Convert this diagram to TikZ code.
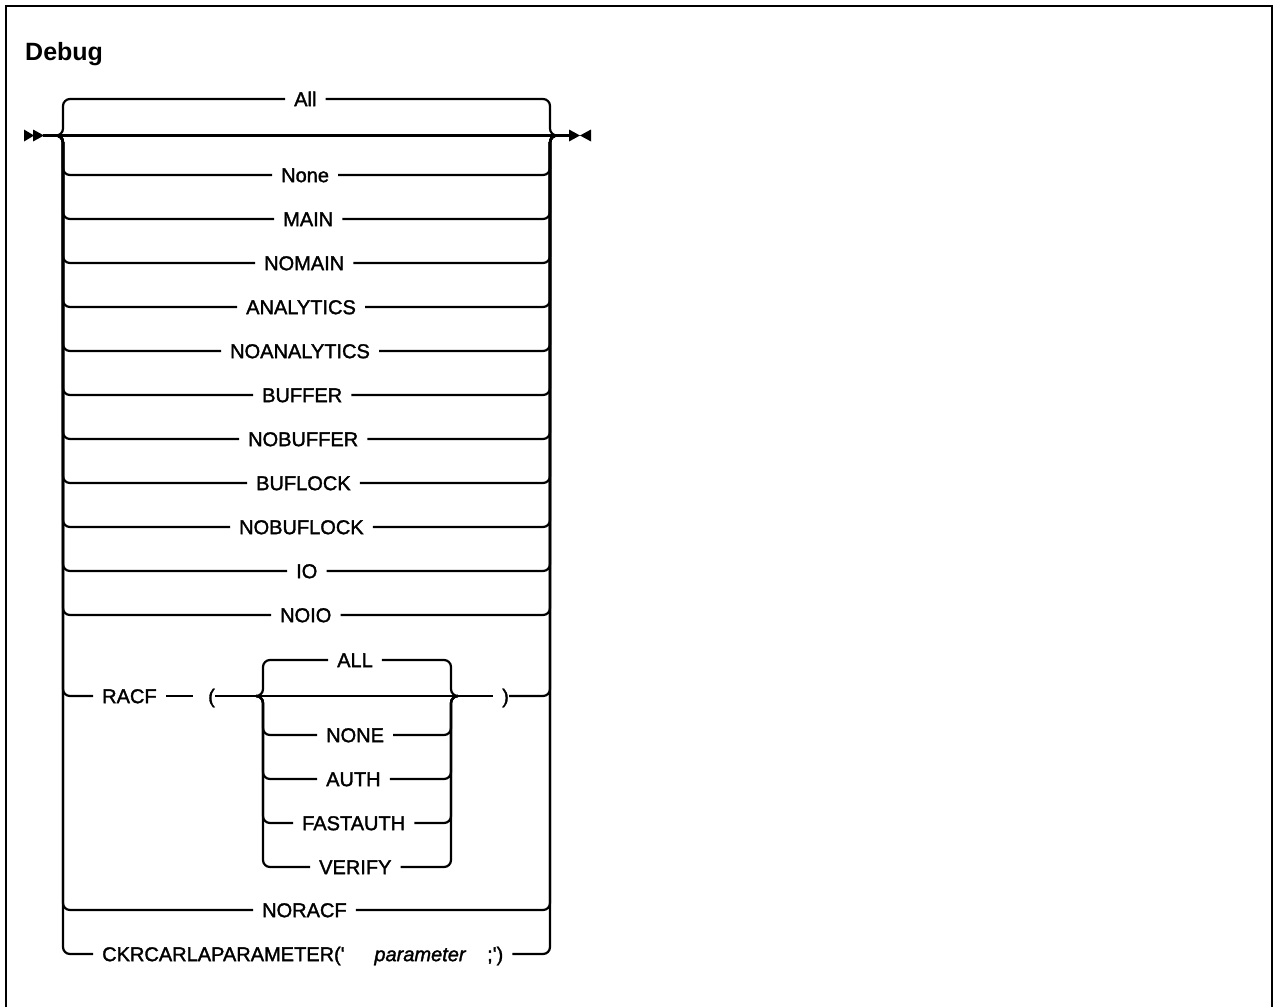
\documentclass[tikz,border=0pt]{standalone}
\usepackage{fontspec}
\setmainfont{Liberation Sans}
\newfontfamily\kwfam[FakeBold=1.6]{Liberation Sans}
\newcommand\kwfont{\kwfam\fontsize{20}{24}\selectfont}
\tikzset{
  ln/.style={line width=2.2pt},
  rr/.style={line width=2.2pt, rounded corners=7pt},
  kw/.style={font=\kwfont, text height=14.3pt, text depth=0pt, inner ysep=0pt, inner xsep=9pt, anchor=west},
  tip/.style={fill=black, draw=none},
}
\begin{document}
\begin{tikzpicture}[x=1pt,y=-1pt]
\useasboundingbox (0,0) rectangle (1274,1007);
% frame
\draw[line width=2.4pt] (6,1007) -- (6,6) -- (1272,6) -- (1272,1007);
\node[anchor=base west, font=\bfseries\fontsize{25}{30}\selectfont, inner sep=0pt] (title) at (25,60) {Debug};

% start / end markers
\coordinate (sa) at (43,135.5);
\coordinate (ea) at (569,135.5);
\fill[tip] (24,129.5) -- (34,135.5) -- (24,141.5) -- cycle;
\fill[tip] (33,129.5) -- (44,135.5) -- (33,141.5) -- cycle;
\fill[tip] (569,129.5) -- (580,135.5) -- (569,141.5) -- cycle;
\fill[tip] (591,129.5) -- (580,135.5) -- (591,141.5) -- cycle;
\draw[ln] (sa) -- (ea);

% junctions of the outer choice
\coordinate (jl) at (56,135.5);
\coordinate (lu) at (63,120);
\coordinate (ld) at (63,150);
\coordinate (jr) at (557,135.5);
\coordinate (ru) at (550,120);
\coordinate (rd) at (550,150);

% keyword nodes
\node[kw] (all) at (285,99) {All\hspace{1pt}};
\node[kw] (none) at (272,175) {None\hspace{3pt}};
\node[kw] (main) at (274,219) {MAIN};
\node[kw] (nomain) at (255,263) {NOMAIN\hspace{3pt}};
\node[kw] (analytics) at (237,307) {ANALYTICS\hspace{11pt}};
\node[kw] (noanalytics) at (221,351) {NOANALYTICS\hspace{12pt}};
\node[kw] (buffer) at (253,395) {BUFFER\hspace{5pt}};
\node[kw] (nobuffer) at (239,439) {NOBUFFER\hspace{10pt}};
\node[kw] (buflock) at (247,483) {BUFLOCK\hspace{10pt}};
\node[kw] (nobuflock) at (230,527) {NOBUFLOCK\hspace{13pt}};
\node[kw] (io) at (287,571) {IO};
\node[kw] (noio) at (271,615) {NOIO\hspace{1pt}};
\node[kw] (racf) at (93,696) {RACF\hspace{2pt}};
\node[kw, inner xsep=0pt] (lpar) at (193,696) {\hspace{15pt}(\hspace{5pt}};
\node[kw, inner xsep=0pt] (rpar) at (493,696) {\hspace{9pt})\hspace{9pt}};
\node[kw] (noracf) at (253,910) {NORACF\hspace{6pt}};
\node[kw] (ckr) at (93,954) {CKRCARLAPARAMETER('};
\node[kw, anchor=center, font=\kwfont\itshape] (param) at (420,954) {parameter};
\node[kw] (semi) at (478,954) {;')\hspace{1pt}};

% inner RACF choice
\coordinate (ijl) at (256,696);
\coordinate (ilu) at (263,680);
\coordinate (ild) at (263,710);
\coordinate (ijr) at (458,696);
\coordinate (iru) at (451,680);
\coordinate (ird) at (451,710);
\node[kw] (iall) at (328,660) {ALL\hspace{3pt}};
\node[kw] (inone) at (317,735) {NONE\hspace{4pt}};
\node[kw] (iauth) at (317,779) {AUTH\hspace{3pt}};
\node[kw] (ifast) at (293,823) {FASTAUTH\hspace{3pt}};
\node[kw] (iver) at (310,867) {VERIFY\hspace{3pt}};

% outer branches
\draw[rr] (jl) -| (lu) |- (all.west);
\draw[rr] (all.east) -| (ru) |- (jr);
\foreach \n in {none,main,nomain,analytics,noanalytics,buffer,nobuffer,buflock,nobuflock,io,noio,racf,noracf,ckr}{
  \draw[rr] (jl) -| (ld) |- (\n.west);
}
\foreach \n in {none,main,nomain,analytics,noanalytics,buffer,nobuffer,buflock,nobuflock,io,noio,rpar,noracf,semi}{
  \draw[rr] (\n.east) -| (rd) |- (jr);
}
\draw[ln] (racf.east) -- (lpar.west);
\draw[ln] (lpar.east) -- (rpar.west);

% inner branches
\draw[rr] (ijl) -| (ilu) |- (iall.west);
\draw[rr] (iall.east) -| (iru) |- (ijr);
\foreach \n in {inone,iauth,ifast,iver}{
  \draw[rr] (ijl) -| (ild) |- (\n.west);
  \draw[rr] (\n.east) -| (ird) |- (ijr);
}
\end{tikzpicture}
\end{document}
